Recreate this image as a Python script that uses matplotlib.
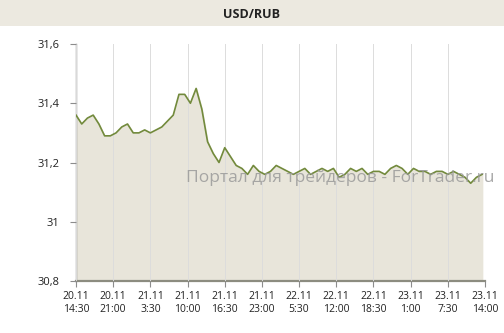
import numpy as np
import matplotlib
matplotlib.use("Agg")
import matplotlib.pyplot as plt
from matplotlib.patches import Rectangle

# hourly USD/RUB quotes from 20.11 14:30 onward
hours = np.arange(72)
rates = [31.36, 31.33, 31.35, 31.36, 31.33, 31.29, 31.29, 31.30, 31.32, 31.33,
         31.30, 31.30, 31.31, 31.30, 31.31, 31.32, 31.34, 31.36, 31.43, 31.43,
         31.40, 31.45, 31.38, 31.27, 31.23, 31.20, 31.25, 31.22, 31.19, 31.18,
         31.16, 31.19, 31.17, 31.16, 31.17, 31.19, 31.18, 31.17, 31.16, 31.17,
         31.18, 31.16, 31.17, 31.18, 31.17, 31.18, 31.15, 31.16, 31.18, 31.17,
         31.18, 31.16, 31.17, 31.17, 31.16, 31.18, 31.19, 31.18, 31.16, 31.18,
         31.17, 31.17, 31.16, 31.17, 31.17, 31.16, 31.17, 31.16, 31.15, 31.13,
         31.15, 31.16]

tick_hours = [0, 6.5, 13, 19.5, 26, 32.5, 39, 45.5, 52, 58.5, 65, 71.5]
tick_labels = ["20.11\n14:30", "20.11\n21:00", "21.11\n3:30", "21.11\n10:00",
               "21.11\n16:30", "21.11\n23:00", "22.11\n5:30", "22.11\n12:00",
               "22.11\n18:30", "23.11\n1:00", "23.11\n7:30", "23.11\n14:00"]
y_ticks = [30.8, 31.0, 31.2, 31.4, 31.6]
y_labels = ["30,8", "31", "31,2", "31,4", "31,6"]

plt.rcParams["font.family"] = ["Open Sans", "DejaVu Sans"]

fig = plt.figure(figsize=(5.04, 3.33), dpi=100)
fig.patch.set_facecolor("white")

# title band
fig.add_artist(Rectangle((0, 1 - 26 / 333), 1, 26 / 333, transform=fig.transFigure,
                         facecolor="#ece9e0", edgecolor="none", zorder=0))
fig.text(0.5, 1 - 14 / 333, "USD/RUB", ha="center", va="center",
         fontsize=9, fontweight="bold", color="#222222")

ax = fig.add_axes([76 / 504, 1 - 281 / 333, (485 - 76) / 504, (281 - 44) / 333])
ax.set_facecolor("white")

ax.fill_between(hours, rates, 30.8, color="#e8e5da", zorder=1)
ax.plot(hours, rates, color="#728a3c", linewidth=1.2, zorder=3)

ax.set_xlim(0, 71.5)
ax.set_ylim(30.8, 31.6)
ax.set_xticks(tick_hours)
ax.set_xticklabels(tick_labels, fontsize=7.5, color="#222222", linespacing=1.25)
ax.set_yticks(y_ticks)
ax.set_yticklabels(y_labels, fontsize=8, color="#222222")
ax.grid(True, axis="x", color="#dcdcdc", linewidth=0.7, zorder=2)
ax.set_axisbelow(False)

for side in ["top", "right"]:
    ax.spines[side].set_visible(False)
ax.spines["left"].set_color("#8c8c8c")
ax.spines["left"].set_linewidth(1.0)
ax.spines["bottom"].set_color("#8c8c80")
ax.spines["bottom"].set_linewidth(1.6)
ax.tick_params(axis="both", direction="out", length=4, color="#8c8c8c", pad=3)
ax.tick_params(axis="y", pad=8)

# watermark
fig.text(186 / 504, 1 - 178 / 333, "Портал для трейдеров - ForTrader.ru",
         ha="left", va="center", fontsize=12.5, color="#9a9a9a", alpha=0.85, zorder=5)

fig.savefig("out.png", dpi=100)
